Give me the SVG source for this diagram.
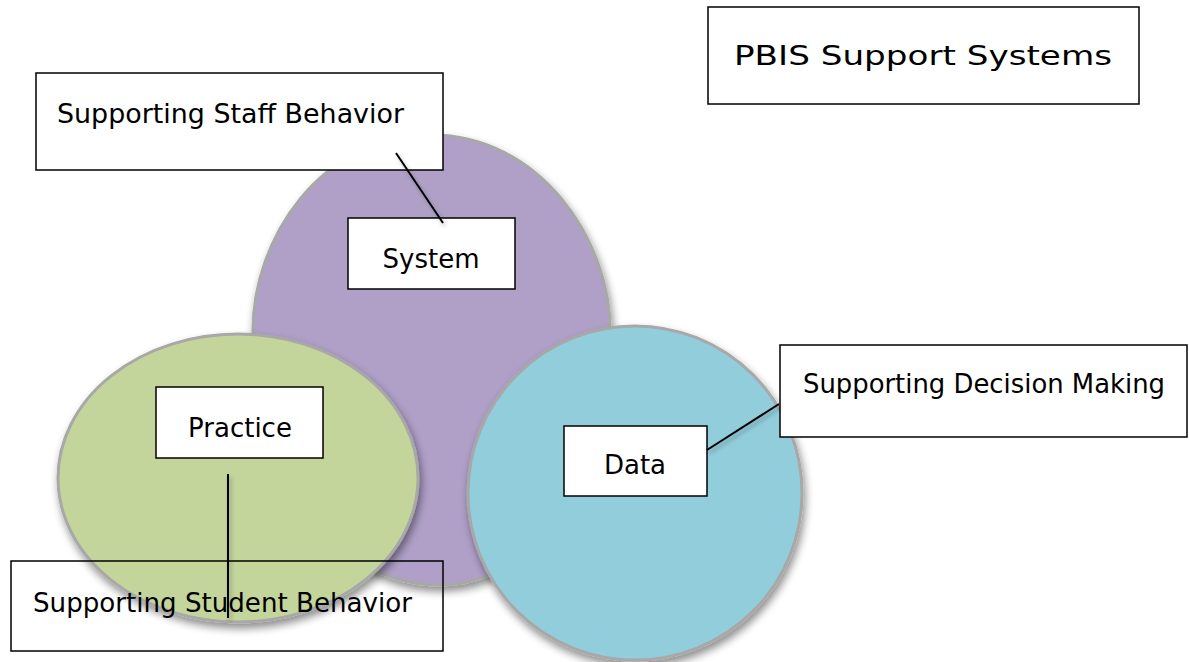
<svg xmlns="http://www.w3.org/2000/svg" width="1189" height="662" viewBox="0 0 1189 662">
<defs>
<filter id="sh" x="-20%" y="-20%" width="140%" height="140%">
<feGaussianBlur in="SourceAlpha" stdDeviation="4"/>
<feOffset dx="2" dy="5" result="b"/>
<feComponentTransfer><feFuncA type="linear" slope="0.45"/></feComponentTransfer>
<feMerge><feMergeNode/><feMergeNode in="SourceGraphic"/></feMerge>
</filter>
<filter id="lsh" x="-50%" y="-50%" width="200%" height="200%">
<feGaussianBlur in="SourceAlpha" stdDeviation="2"/>
<feOffset dx="2" dy="3" result="b"/>
<feComponentTransfer><feFuncA type="linear" slope="0.3"/></feComponentTransfer>
<feMerge><feMergeNode/><feMergeNode in="SourceGraphic"/></feMerge>
</filter>
</defs>
<style>
.blob{stroke:#a8a8a8;stroke-width:3}
.box{fill:#ffffff;stroke:#000000;stroke-width:1.5}
.open{fill:none;stroke:#000000;stroke-width:1.5}
.t{font-family:"Comic Sans MS","DejaVu Sans",sans-serif;font-size:26px;fill:#000000}
.c{stroke:#000000;stroke-width:2;fill:none}
</style>
<rect width="1189" height="662" fill="#ffffff"/>
<g id="system-shape"><path class="blob" fill="#b0a0c8" filter="url(#sh)" d="M431,135 C540,135 610,240 610,330 C610,470 540,585 440,585 C330,585 253,470 253,330 C253,240 320,135 431,135 Z"/></g>
<g id="practice-shape"><ellipse class="blob" fill="#c3d59b" filter="url(#sh)" cx="238" cy="478" rx="180" ry="144"/></g>
<g id="data-shape"><circle class="blob" fill="#92cddc" filter="url(#sh)" cx="635" cy="493" r="167"/></g>
<g id="title"><rect class="box" x="708" y="7" width="431" height="97"/><text class="t" x="734" y="65" font-size="34" textLength="378" lengthAdjust="spacingAndGlyphs">PBIS Support Systems</text></g>
<g id="staff"><rect class="box" x="36" y="73" width="407" height="97"/><text class="t" x="57" y="123" textLength="347" lengthAdjust="spacingAndGlyphs">Supporting Staff Behavior</text></g>
<g id="system"><rect class="box" x="348" y="218" width="167" height="71"/><text class="t" x="431" y="268" text-anchor="middle">System</text></g>
<g id="practice"><rect class="box" x="156" y="387" width="167" height="71"/><text class="t" x="240" y="437" text-anchor="middle">Practice</text></g>
<g id="data"><rect class="box" x="564" y="426" width="143" height="70"/><text class="t" x="635" y="474" text-anchor="middle">Data</text></g>
<g id="decision"><rect class="box" x="780" y="345" width="407" height="92"/><text class="t" x="803" y="393" textLength="362" lengthAdjust="spacingAndGlyphs">Supporting Decision Making</text></g>
<g id="student"><rect class="open" x="11" y="561" width="432" height="90"/><text class="t" x="33" y="612" textLength="379" lengthAdjust="spacingAndGlyphs">Supporting Student Behavior</text></g>
<g id="connectors" filter="url(#lsh)">
<line class="c" x1="396" y1="153" x2="443" y2="223"/>
<line class="c" x1="707" y1="450" x2="779" y2="404"/>
<line class="c" x1="228" y1="474" x2="228" y2="618"/>
</g>
</svg>
